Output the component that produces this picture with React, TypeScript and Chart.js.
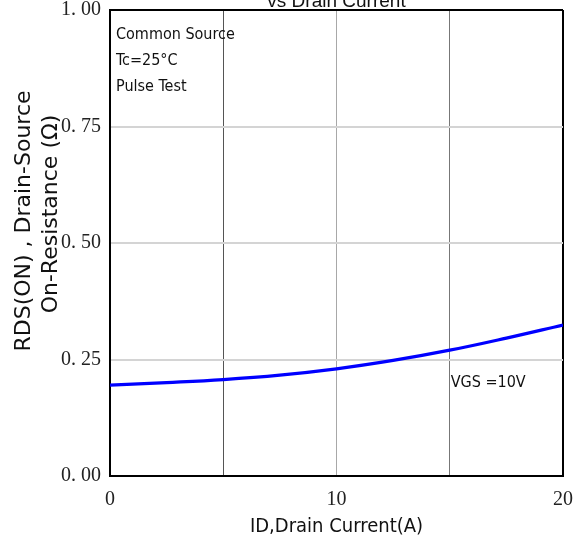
import React, { useEffect, useRef } from "react";
import { Chart, registerables } from "chart.js";

Chart.register(...registerables);

const currentA = [0, 2.5, 5, 7.5, 10, 12.5, 15, 17.5, 20];
const rdsOhm = [0.195, 0.2005, 0.207, 0.2165, 0.23, 0.248, 0.27, 0.296, 0.324];
const yTitleLines = ["RDS(ON) , Drain-Source", "On-Resistance (\u03A9)"];
const xTitle = "ID,Drain Current(A)";
const chartTitle = "vs Drain Current";
const noteLines = ["Common Source", "Tc=25\u00B0C", "Pulse Test"];
const curveLabel = "VGS =10V";
const curveLabelAt = { x: 15, y: 0.2 };

const NARROW = '"Liberation Sans Narrow", "DejaVu Sans Condensed", Roboto, "Liberation Sans", sans-serif';
const SERIF = '"Liberation Serif", "DejaVu Serif", serif';

const textPlugin = {
  id: "textPlugin",
  afterDraw(chart: any) {
    const { ctx, chartArea, scales } = chart;
    ctx.save();
    ctx.fillStyle = "#111";
    // top (cut) title
    ctx.font = '19px "Liberation Sans", Arial, sans-serif';
    ctx.textAlign = "center";
    ctx.textBaseline = "alphabetic";
    ctx.fillText(chartTitle, (chartArea.left + chartArea.right) / 2, 7);
    // notes
    ctx.font = "16px " + NARROW;
    ctx.textAlign = "left";
    ctx.textBaseline = "middle";
    noteLines.forEach((t, i) => {
      ctx.fillText(t, chartArea.left + 6, chartArea.top + 24.5 + i * 26);
    });
    // curve label
    ctx.fillText(
      curveLabel,
      scales.x.getPixelForValue(curveLabelAt.x) + 1,
      scales.y.getPixelForValue(curveLabelAt.y)
    );
    // y title
    const midY = (chartArea.top + chartArea.bottom) / 2;
    ctx.font = '22px "DejaVu Sans", sans-serif';
    ctx.textAlign = "center";
    ctx.textBaseline = "middle";
    const xs = [24, 51];
    const ys = [midY - 22, midY - 29];
    yTitleLines.forEach((t, i) => {
      ctx.save();
      ctx.translate(xs[i], ys[i]);
      ctx.rotate(-Math.PI / 2);
      ctx.fillText(t, 0, 0);
      ctx.restore();
    });
    ctx.restore();
  },
};

function xGridColor(ctx: any) {
  const v = ctx.tick ? ctx.tick.value : 0;
  if (v === 20) return "#000";
  if (v === 0) return "rgba(0,0,0,0)";
  if (v === 10) return "#a8a8a8";
  if (v === 5) return "#555";
  return "#777";
}

export default function App() {
  const ref = useRef<HTMLCanvasElement | null>(null);
  useEffect(() => {
    if (!ref.current) return;
    const chart = new Chart(ref.current, {
      type: "line",
      data: {
        datasets: [
          {
            data: currentA.map((x, i) => ({ x, y: rdsOhm[i] })),
            borderColor: "#0000ff",
            borderWidth: 3.2,
            pointRadius: 0,
            tension: 0.4,
            fill: false,
          },
        ],
      },
      options: {
        animation: false,
        responsive: true,
        maintainAspectRatio: false,
        layout: { padding: { top: 10, right: 19, left: 0, bottom: 0 } },
        plugins: { legend: { display: false }, tooltip: { enabled: false }, title: { display: false } },
        scales: {
          x: {
            type: "linear",
            min: 0,
            max: 20,
            afterFit: (s: any) => {
              s.height = 72;
              s.paddingLeft = 0;
              s.paddingRight = 0;
            },
            ticks: {
              stepSize: 5,
              autoSkip: false,
              maxRotation: 0,
              padding: 12,
              color: "#222",
              font: { family: SERIF, size: 20 },
              callback: (v: any) => (Number(v) % 10 === 0 ? String(v) : ""),
            },
            grid: {
              drawTicks: false,
              color: xGridColor,
              lineWidth: (ctx: any) => (ctx.tick && ctx.tick.value === 20 ? 2 : 1),
            },
            border: { color: "#000", width: 2 },
            title: {
              display: true,
              text: xTitle,
              color: "#111",
              font: { family: NARROW, size: 20 },
              padding: { top: 0, bottom: 9 },
            },
          },
          y: {
            min: 0,
            max: 1,
            afterFit: (s: any) => {
              s.width = 110;
              s.paddingTop = 0;
              s.paddingBottom = 0;
            },
            ticks: {
              stepSize: 0.25,
              padding: 9,
              color: "#222",
              font: { family: SERIF, size: 20 },
              callback: (v: any) => Number(v).toFixed(2).replace(".", ". "),
            },
            grid: {
              drawTicks: false,
              color: (ctx: any) => (ctx.tick && ctx.tick.value === 1 ? "#000" : "#d4d4d4"),
              lineWidth: 2,
            },
            border: { color: "#000", width: 2 },
          },
        },
      },
      plugins: [textPlugin],
    } as any);
    return () => chart.destroy();
  }, []);
  return (
    <div style={{ position: "absolute", left: 0, top: 0, width: 582, height: 548, background: "#fff" }}>
      <canvas ref={ref} />
    </div>
  );
}
